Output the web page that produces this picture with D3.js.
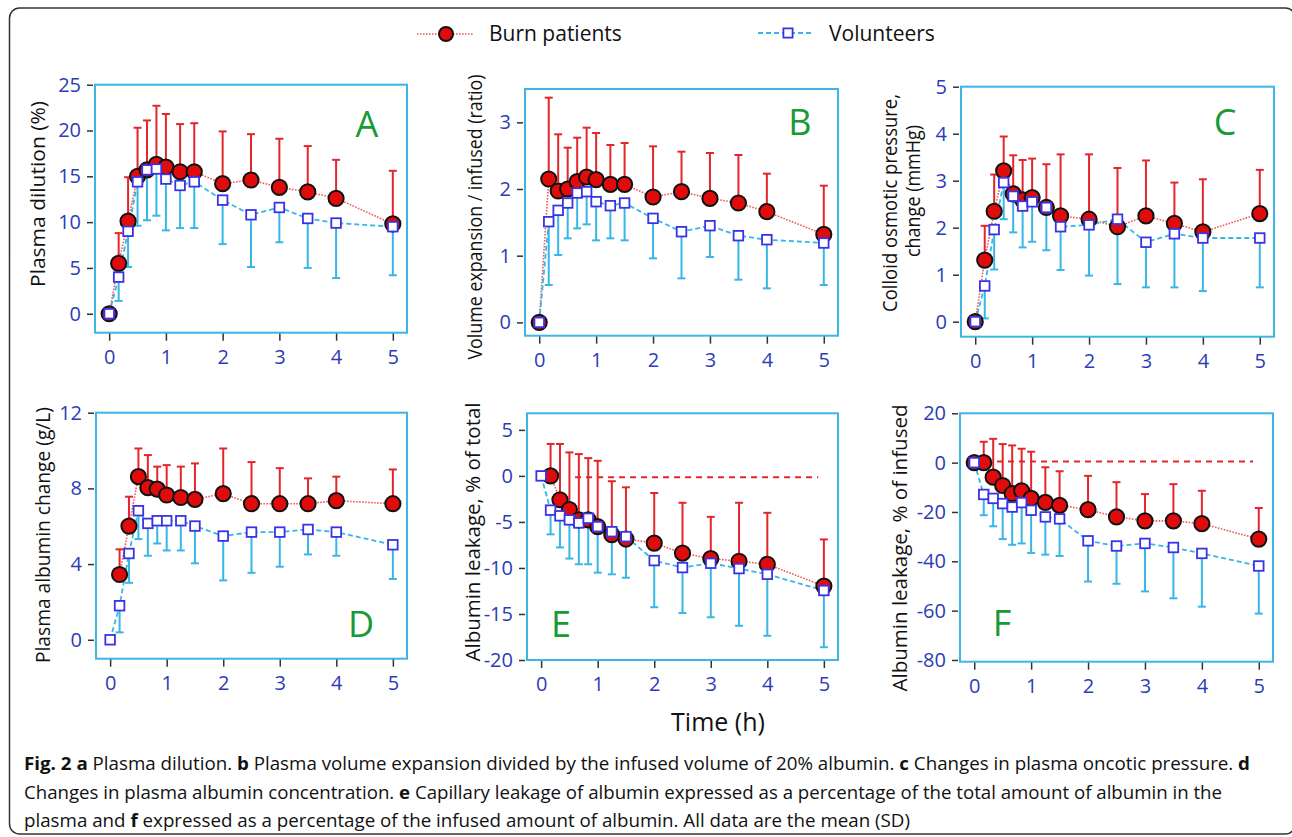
<!DOCTYPE html>
<html>
<head>
<meta charset="utf-8">
<script src="https://cdn.jsdelivr.net/npm/d3@7"></script>
<style>
  body { margin: 0; background: #fff; }
  svg { display: block; font-family: "Open Sans", "Noto Sans", sans-serif; }
</style>
</head>
<body>
<svg id="fig" width="1292" height="837"></svg>
<script>
// sampling times (h)
const times = [0, 0.167, 0.333, 0.5, 0.667, 0.833, 1, 1.25, 1.5, 2, 2.5, 3, 3.5, 4, 5];
const xTicks = [0, 1, 2, 3, 4, 5];

// A - plasma dilution (%)
const burnA = [0, 5.5, 10.1, 15.0, 15.7, 16.3, 16.0, 15.5, 15.5, 14.2, 14.6, 13.8, 13.3, 12.6, 9.8];
const burnSdA = [0, 3.3, 4.8, 5.3, 5.4, 6.4, 5.8, 5.2, 5.3, 5.7, 5.0, 5.3, 5.0, 4.2, 5.8];
const volA = [0, 4.0, 9.0, 14.4, 15.7, 15.8, 14.7, 14.0, 14.4, 12.4, 10.8, 11.6, 10.4, 9.9, 9.5];
const volSdA = [0, 2.6, 3.9, 4.8, 5.5, 5.1, 5.6, 4.65, 5.05, 4.8, 5.7, 3.8, 5.4, 6.0, 5.3];
const yTicksA = [0, 5, 10, 15, 20, 25];

// B - volume expansion / infused (ratio)
const burnB = [0, 2.15, 1.97, 2.0, 2.11, 2.18, 2.14, 2.07, 2.07, 1.88, 1.96, 1.86, 1.79, 1.66, 1.32];
const burnSdB = [0, 1.22, 0.85, 0.62, 0.66, 0.74, 0.70, 0.59, 0.62, 0.76, 0.60, 0.68, 0.72, 0.57, 0.73];
const volB = [0, 1.51, 1.68, 1.79, 1.94, 1.96, 1.81, 1.75, 1.79, 1.56, 1.36, 1.45, 1.30, 1.24, 1.19];
const volSdB = [0, 0.95, 0.67, 0.53, 0.53, 0.49, 0.58, 0.49, 0.56, 0.60, 0.70, 0.47, 0.66, 0.73, 0.63];
const yTicksB = [0, 1, 2, 3];

// C - colloid osmotic pressure change (mmHg)
const burnC = [0, 1.31, 2.35, 3.21, 2.72, 2.59, 2.64, 2.43, 2.25, 2.18, 2.02, 2.25, 2.09, 1.91, 2.30];
const burnSdC = [0, 0.73, 0.78, 0.73, 0.82, 0.85, 0.83, 0.92, 1.31, 1.38, 1.25, 1.18, 0.87, 1.12, 0.93];
const volC = [0, 0.76, 1.96, 2.96, 2.67, 2.46, 2.55, 2.43, 2.02, 2.06, 2.18, 1.69, 1.87, 1.78, 1.78];
const volSdC = [0, 0.69, 0.85, 0.78, 0.77, 0.88, 0.85, 0.91, 0.92, 1.08, 1.38, 0.96, 1.14, 1.13, 1.05];
const yTicksC = [0, 1, 2, 3, 4, 5];

// D - plasma albumin change (g/L)
const burnD = [null, 3.45, 6.01, 8.62, 8.04, 7.96, 7.65, 7.52, 7.42, 7.72, 7.19, 7.19, 7.19, 7.35, 7.19];
const burnSdD = [null, 1.33, 1.55, 1.49, 1.72, 1.19, 1.58, 1.63, 1.90, 2.39, 2.20, 1.88, 1.34, 1.27, 1.81];
const volD = [0, 1.8, 4.56, 6.82, 6.15, 6.29, 6.29, 6.29, 6.01, 5.48, 5.69, 5.69, 5.83, 5.69, 5.02];
const volSdD = [0, 1.41, 1.55, 1.50, 1.71, 1.20, 1.57, 1.57, 1.97, 2.34, 2.15, 1.83, 1.32, 1.25, 1.81];
const yTicksD = [0, 4, 8, 12];

// E - albumin leakage, % of total
const burnE = [null, 0, -2.59, -3.65, -4.78, -4.78, -5.51, -6.39, -6.86, -7.30, -8.39, -8.98, -9.27, -9.6, -11.97];
const burnSdE = [null, 3.47, 6.06, 6.2, 7.15, 6.71, 7.15, 5.81, 5.62, 5.44, 5.47, 4.53, 6.35, 5.59, 5.07];
const volE = [0, -3.72, -4.34, -4.78, -5.11, -4.6, -5.51, -6.06, -6.6, -9.2, -9.96, -9.49, -10.07, -10.69, -12.45];
const volSdE = [0, 2.63, 3.43, 4.2, 4.49, 5.0, 5.0, 4.63, 4.46, 5.07, 4.93, 5.87, 6.21, 6.68, 6.16];
const yTicksE = [-20, -15, -10, -5, 0, 5];
const refE = [[0.6, -0.15], [4.9, -0.15]];

// F - albumin leakage, % of infused
const burnF = [0, 0, -5.9, -9.26, -12.6, -11.4, -14.5, -16.1, -17.3, -19.06, -22.0, -23.6, -23.6, -24.7, -31.0];
const burnSdF = [0, 8.46, 15.56, 16.78, 19.58, 17.04, 18.93, 14.22, 13.81, 13.69, 14.08, 10.85, 14.88, 13.3, 12.6];
const volF = [0, -12.9, -14.5, -16.6, -18.0, -16.2, -19.3, -22.0, -22.8, -31.7, -33.8, -32.75, -34.4, -36.8, -41.9];
const volSdF = [0, 8.4, 11.3, 14.4, 15.3, 16.55, 17.3, 15.3, 15.05, 16.5, 15.3, 19.45, 20.6, 21.6, 19.3];
const yTicksF = [-80, -60, -40, -20, 0, 20];
const refF = [[0.4, 0.5], [4.9, 0.5]];

const seriesNames = ["Burn patients", "Volunteers"];

const RED = "#e3262b", REDLINE = "#f25a5a", BLUE = "#37b6e8", SQ = "#3a33e6";
const TICKCOL = "#2b3db5", GREEN = "#1a9a35", BOX = "#3db6e6";

const svg = d3.select("#fig");

// outer frame
svg.append("rect")
  .attr("x", 9.5).attr("y", 8).attr("width", 1286).attr("height", 826)
  .attr("rx", 10).attr("fill", "none").attr("stroke", "#333").attr("stroke-width", 1.5);

const panels = [
  { letter: "A", burn: burnA, bsd: burnSdA, vol: volA, vsd: volSdA, ticks: yTicksA,
    box: { x: 95, y: 84.7, w: 312, h: 248 }, ydom: [-2.07, 25],
    label: ["Plasma dilution (%)"], lab: [{ x: 38, y: 194, len: 186 }], lx: 367, ly: 137 },
  { letter: "B", burn: burnB, bsd: burnSdB, vol: volB, vsd: volSdB, ticks: yTicksB,
    box: { x: 525, y: 89, w: 313, h: 246.7 }, ydom: [-0.2, 3.5],
    label: ["Volume expansion / infused (ratio)"], lab: [{ x: 475, y: 217, len: 285 }], lx: 800, ly: 135 },
  { letter: "C", burn: burnC, bsd: burnSdC, vol: volC, vsd: volSdC, ticks: yTicksC,
    box: { x: 961, y: 86.7, w: 313, h: 250 }, ydom: [-0.32, 5],
    label: ["Colloid osmotic pressure,", "change (mmHg)"],
    lab: [{ x: 890, y: 203, len: 218 }, { x: 913, y: 191, len: 132 }], lx: 1225, ly: 135 },
  { letter: "D", burn: burnD, bsd: burnSdD, vol: volD, vsd: volSdD, ticks: yTicksD,
    box: { x: 96, y: 412.7, w: 311, h: 246 }, ydom: [-1.0, 12],
    label: ["Plasma albumin change (g/L)"], lab: [{ x: 43, y: 535, len: 256 }], lx: 361, ly: 637 },
  { letter: "E", burn: burnE, bsd: burnSdE, vol: volE, vsd: volSdE, ticks: yTicksE, ref: refE,
    box: { x: 527, y: 413.3, w: 311, h: 246.7 }, ydom: [-20, 6.8],
    label: ["Albumin leakage, % of total"], lab: [{ x: 473, y: 532, len: 259 }], lx: 561, ly: 637 },
  { letter: "F", burn: burnF, bsd: burnSdF, vol: volF, vsd: volSdF, ticks: yTicksF, ref: refF,
    box: { x: 960, y: 413.3, w: 313, h: 248.4 }, ydom: [-80.7, 20],
    label: ["Albumin leakage, % of infused"], lab: [{ x: 900, y: 548, len: 287 }], lx: 1002, ly: 636 }
];

const fmt = (d) => String(d); // plain hyphen minus, no decimals

panels.forEach((p) => {
  const b = p.box;
  const x = d3.scaleLinear().domain([-0.25, 5.25]).range([b.x, b.x + b.w]);
  const y = d3.scaleLinear().domain(p.ydom).range([b.y + b.h, b.y]);
  const g = svg.append("g");

  // axes
  const ya = g.append("g")
    .attr("transform", `translate(${b.x - 2},0)`)
    .call(d3.axisLeft(y).tickValues(p.ticks).tickFormat(fmt).tickSize(6).tickPadding(6));
  const xa = g.append("g")
    .attr("transform", `translate(0,${b.y + b.h})`)
    .call(d3.axisBottom(x).tickValues(xTicks).tickFormat(fmt).tickSize(8).tickPadding(9));
  [ya, xa].forEach((a) => {
    a.select(".domain").remove();
    a.selectAll("line").attr("stroke", "#333").attr("stroke-width", 1.5);
    a.selectAll("text").attr("fill", TICKCOL).attr("font-size", 20)
      .attr("font-family", "'Open Sans', sans-serif");
  });

  g.append("rect")
    .attr("x", b.x).attr("y", b.y).attr("width", b.w).attr("height", b.h)
    .attr("fill", "none").attr("stroke", BOX).attr("stroke-width", 2);

  // y label
  p.label.forEach((t, i) => {
    const l = p.lab[i];
    g.append("text")
      .attr("transform", `translate(${l.x},${l.y}) rotate(-90)`)
      .attr("text-anchor", "middle").attr("dy", "0.35em")
      .attr("font-size", 20).attr("fill", "#111")
      .attr("textLength", l.len).attr("lengthAdjust", "spacingAndGlyphs")
      .text(t);
  });

  // zero reference line
  if (p.ref) {
    g.append("path")
      .attr("d", d3.line().x((d) => x(d[0])).y((d) => y(d[1]))(p.ref))
      .attr("fill", "none").attr("stroke", RED).attr("stroke-width", 2)
      .attr("stroke-dasharray", "6,5");
  }

  const burn = times.map((t, i) => ({ t: t, v: p.burn[i], sd: p.bsd[i] })).filter((d) => d.v !== null);
  const vol = times.map((t, i) => ({ t: t, v: p.vol[i], sd: p.vsd[i] }));
  const line = d3.line().x((d) => x(d.t)).y((d) => y(d.v));

  // burn patients: dotted line, upward SD bars, red circles
  g.append("path").datum(burn).attr("d", line)
    .attr("fill", "none").attr("stroke", REDLINE).attr("stroke-width", 1.6)
    .attr("stroke-dasharray", "1.6,1.4");
  const rb = g.selectAll(".rbar").data(burn.filter((d) => d.sd > 0)).enter().append("g");
  rb.append("line")
    .attr("x1", (d) => x(d.t)).attr("x2", (d) => x(d.t))
    .attr("y1", (d) => y(d.v)).attr("y2", (d) => y(d.v + d.sd))
    .attr("stroke", RED).attr("stroke-width", 2);
  rb.append("line")
    .attr("x1", (d) => x(d.t) - 4).attr("x2", (d) => x(d.t) + 4)
    .attr("y1", (d) => y(d.v + d.sd)).attr("y2", (d) => y(d.v + d.sd))
    .attr("stroke", RED).attr("stroke-width", 2);

  // volunteers: dashed line, downward SD bars
  g.append("path").datum(vol).attr("d", line)
    .attr("fill", "none").attr("stroke", BLUE).attr("stroke-width", 1.8)
    .attr("stroke-dasharray", "5,3");
  const vb = g.selectAll(".vbar").data(vol.filter((d) => d.sd > 0)).enter().append("g");
  vb.append("line")
    .attr("x1", (d) => x(d.t)).attr("x2", (d) => x(d.t))
    .attr("y1", (d) => y(d.v)).attr("y2", (d) => y(d.v - d.sd))
    .attr("stroke", BLUE).attr("stroke-width", 2);
  vb.append("line")
    .attr("x1", (d) => x(d.t) - 4).attr("x2", (d) => x(d.t) + 4)
    .attr("y1", (d) => y(d.v - d.sd)).attr("y2", (d) => y(d.v - d.sd))
    .attr("stroke", BLUE).attr("stroke-width", 2);

  g.selectAll(".dot").data(burn).enter().append("circle")
    .attr("cx", (d) => x(d.t)).attr("cy", (d) => y(d.v)).attr("r", 7.6)
    .attr("fill", "#e00b0b").attr("stroke", "#111").attr("stroke-width", 2);
  g.selectAll(".sq").data(vol).enter().append("rect")
    .attr("x", (d) => x(d.t) - 4.8).attr("y", (d) => y(d.v) - 4.8)
    .attr("width", 9.6).attr("height", 9.6)
    .attr("fill", "#fff").attr("stroke", SQ).attr("stroke-width", 1.8);

  g.append("text")
    .attr("x", p.lx).attr("y", p.ly).attr("text-anchor", "middle")
    .attr("font-size", 36).attr("fill", GREEN).text(p.letter);
});

// legend
const leg = svg.append("g");
leg.append("line").attr("x1", 417).attr("x2", 473).attr("y1", 34).attr("y2", 34)
  .attr("stroke", REDLINE).attr("stroke-width", 1.6).attr("stroke-dasharray", "1.6,1.4");
leg.append("circle").attr("cx", 446).attr("cy", 34).attr("r", 7)
  .attr("fill", "#e00b0b").attr("stroke", "#111").attr("stroke-width", 2);
leg.append("text").attr("x", 489).attr("y", 41).attr("font-size", 21).attr("fill", "#111").text(seriesNames[0]);
leg.append("line").attr("x1", 758).attr("x2", 814).attr("y1", 33).attr("y2", 33)
  .attr("stroke", BLUE).attr("stroke-width", 1.8).attr("stroke-dasharray", "5,3");
leg.append("rect").attr("x", 783.4).attr("y", 28.4).attr("width", 9.2).attr("height", 9.2)
  .attr("fill", "#fff").attr("stroke", SQ).attr("stroke-width", 1.8);
leg.append("text").attr("x", 829).attr("y", 41).attr("font-size", 21).attr("fill", "#111").text(seriesNames[1]);

// common x label
svg.append("text").attr("x", 718).attr("y", 731).attr("text-anchor", "middle")
  .attr("font-size", 25).attr("fill", "#111").text("Time (h)");

// caption
const caption = [
  { y: 770, len: 1226, parts: [["Fig. 2 a", 1], [" Plasma dilution. ", 0], ["b", 1], [" Plasma volume expansion divided by the infused volume of 20% albumin. ", 0], ["c", 1], [" Changes in plasma oncotic pressure. ", 0], ["d", 1]] },
  { y: 799, len: 1198, parts: [["Changes in plasma albumin concentration. ", 0], ["e", 1], [" Capillary leakage of albumin expressed as a percentage of the total amount of albumin in the", 0]] },
  { y: 827, len: 886, parts: [["plasma and ", 0], ["f", 1], [" expressed as a percentage of the infused amount of albumin. All data are the mean (SD)", 0]] }
];
caption.forEach((c) => {
  const t = svg.append("text").attr("x", 24).attr("y", c.y).attr("font-size", 18).attr("fill", "#111")
    .attr("textLength", c.len).attr("lengthAdjust", "spacingAndGlyphs");
  c.parts.forEach((pt) => {
    t.append("tspan").attr("font-weight", pt[1] ? "bold" : "normal").text(pt[0]);
  });
});
</script>
</body>
</html>
